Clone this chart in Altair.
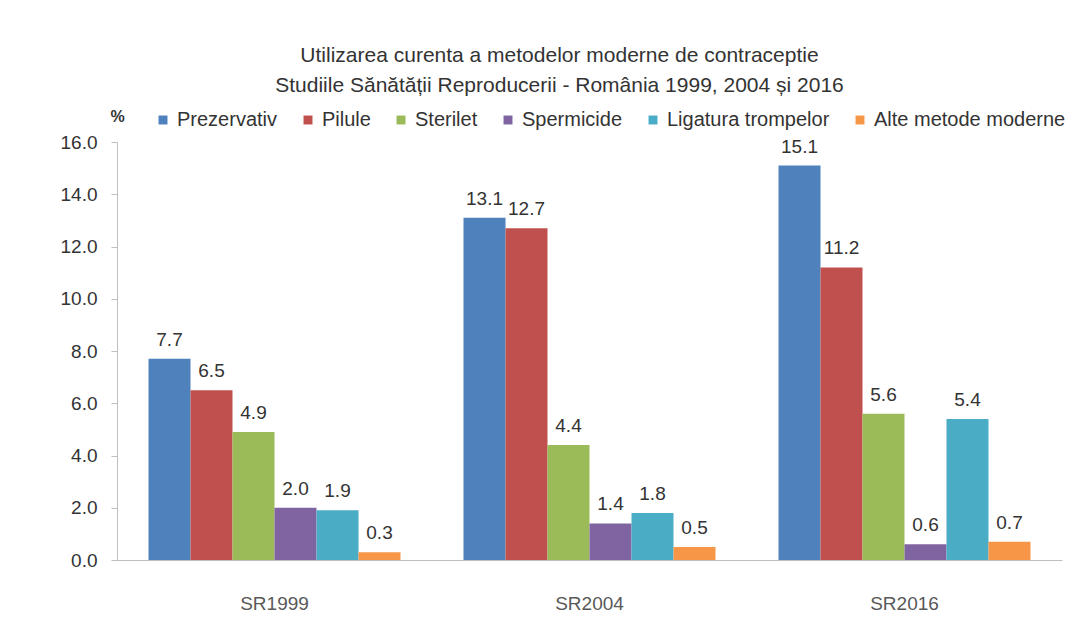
import altair as alt
import pandas as pd

surveys = ["SR1999", "SR2004", "SR2016"]
methods = ["Prezervativ", "Pilule", "Sterilet", "Spermicide", "Ligatura trompelor", "Alte metode moderne"]
colors = ["#4F81BD", "#C0504D", "#9BBB59", "#8064A2", "#4BACC6", "#F79646"]
values = {
    "SR1999": [7.7, 6.5, 4.9, 2.0, 1.9, 0.3],
    "SR2004": [13.1, 12.7, 4.4, 1.4, 1.8, 0.5],
    "SR2016": [15.1, 11.2, 5.6, 0.6, 5.4, 0.7],
}
y_ticks = [0, 2, 4, 6, 8, 10, 12, 14, 16]
title_lines = [
    "Utilizarea curenta a metodelor moderne de contraceptie",
    "Studiile Sănătății Reproducerii - România 1999, 2004 și 2016",
]

rows = []
for s in surveys:
    for m, v in zip(methods, values[s]):
        rows.append({"Studiu": s, "Metoda": m, "Valoare": v})
df = pd.DataFrame(rows)

FONT = "Liberation Sans"

x = alt.X("Studiu:N", sort=surveys, title=None,
          scale=alt.Scale(paddingInner=0.2, paddingOuter=0.1),
          axis=alt.Axis(labelAngle=0, labelFontSize=19, labelColor="#595959", labelPadding=34,
                        ticks=False, domainColor="#BFBFBF", labelFont=FONT))
xo = alt.XOffset("Metoda:N", sort=methods)
y = alt.Y("Valoare:Q", title="%",
          scale=alt.Scale(domain=[0, 16], nice=False),
          axis=alt.Axis(values=y_ticks, format=".1f", grid=False, labelFontSize=19,
                        labelColor="#333333", domainColor="#BFBFBF", tickColor="#BFBFBF",
                        tickSize=6, labelPadding=14, labelFont=FONT,
                        titleAngle=0, titleX=0, titleY=-26, titleAlign="center",
                        titleBaseline="middle", titleFontSize=16, titleFont=FONT,
                        titleColor="#333333", titleFontWeight="bold"))

bars = alt.Chart(df).mark_bar().encode(
    x=x, xOffset=xo, y=y,
    color=alt.Color("Metoda:N", sort=methods,
                    scale=alt.Scale(domain=methods, range=colors),
                    legend=alt.Legend(title=None, orient="none", direction="horizontal",
                                      legendX=36, legendY=-32, symbolType="square",
                                      symbolSize=80, labelFontSize=20, labelFont=FONT,
                                      labelColor="#333333", columnPadding=20, labelOffset=4,
                                      labelLimit=400)),
)
labels = alt.Chart(df).mark_text(dy=-19, fontSize=19, font=FONT, color="#333333").encode(
    x=x, xOffset=xo, y=y,
    text=alt.Text("Valoare:Q", format=".1f"),
)

chart = alt.layer(bars, labels).properties(
    width=945, height=418,
    title=alt.TitleParams(title_lines, anchor="middle", fontSize=21, font=FONT,
                          fontWeight="normal", color="#333333", lineHeight=30, dx=-30, offset=12),
    autosize=alt.AutoSizeParams(type="none"),
    padding={"left": 109, "top": 134, "right": 4, "bottom": 55},
).configure_view(stroke=None)

chart.save("out.html", embed_options={"renderer": "svg", "actions": False})
